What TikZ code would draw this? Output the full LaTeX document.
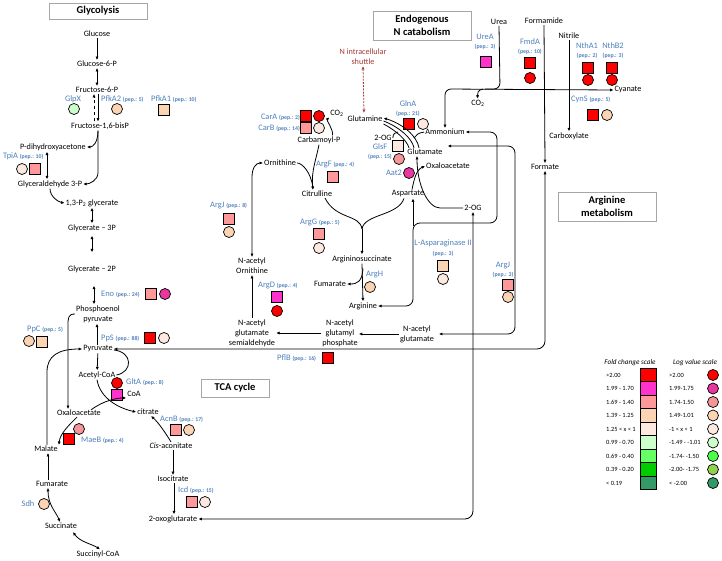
\documentclass[tikz,border=0pt]{standalone}
\usepackage{fontspec}
\setmainfont{Carlito}
\usetikzlibrary{arrows.meta,calc}
\definecolor{enzblue}{HTML}{4F81BD}
\definecolor{shut}{HTML}{A33B36}
\definecolor{boxgray}{HTML}{A6A6A6}
\definecolor{cR}{HTML}{FF0000}
\definecolor{cMgS}{HTML}{FF33CC}
\definecolor{cMgC}{HTML}{E8379F}
\definecolor{cPk}{HTML}{FF9999}
\definecolor{cPkC}{HTML}{F4959A}
\definecolor{cPe}{HTML}{FBD4B4}
\definecolor{cLP}{HTML}{FDE9DF}
\definecolor{cLG}{HTML}{CCFFCC}
\definecolor{cG}{HTML}{66FF66}
\definecolor{cGc}{HTML}{4CFF4C}
\definecolor{cG2}{HTML}{00CC00}
\definecolor{cOl}{HTML}{92D050}
\definecolor{cDG}{HTML}{339966}
\newcommand\metf{\fontsize{8.2}{10}\selectfont}
\newcommand\enzf{\fontsize{8.4}{9}\selectfont}
\newcommand\pepf{\fontsize{5.8}{8}\selectfont\bfseries}
\newcommand\titf{\fontsize{10.5}{12.5}\selectfont\bfseries}
\newcommand\legf{\fontsize{6.4}{7.5}\selectfont}
\newcommand\legh{\fontsize{7.2}{8.5}\selectfont\itshape}
\begin{document}
\begin{tikzpicture}[x=1pt,y=-1pt,
  met/.style={font=\metf, align=center, inner sep=1pt},
  enz/.style={font=\enzf, text=enzblue, align=center, inner sep=0pt},
  sq/.style={draw=black, line width=0.7pt, minimum size=10.5pt, inner sep=0pt, rectangle},
  ci/.style={draw=black, line width=0.7pt, minimum size=11pt, inner sep=0pt, circle},
  ln/.style={line width=0.8pt, draw=black},
  arr/.style={ln, -{Latex[length=3.4pt,width=3.2pt]}},
  dbl/.style={ln, {Latex[length=3.4pt,width=3.2pt]}-{Latex[length=3.4pt,width=3.2pt]}},
  titlebox/.style={draw=boxgray, line width=0.8pt, font=\titf, align=center, inner sep=0pt},
  legsq/.style={draw=black, line width=0.7pt, minimum width=16pt, minimum height=13.5pt, inner sep=0pt, rectangle},
  legt/.style={font=\legf, inner sep=0pt}]
\fill[white] (0,0) rectangle (722,561);
\useasboundingbox (0,0) rectangle (722,561);

% ---------- titles
\node[titlebox, minimum width=98pt, minimum height=16pt] (tGly) at (98,11) {Glycolysis};
\node[titlebox, minimum width=98pt, minimum height=29pt] (tN) at (422,25.5) {Endogenous\\N catabolism};
\node[titlebox, minimum width=68pt, minimum height=18pt] (tTCA) at (235,388) {TCA cycle};
\node[titlebox, minimum width=98pt, minimum height=29pt] (tArg) at (607,206.5) {Arginine\\metabolism};

% ---------- glycolysis metabolites
\node[met] (glc) at (97,34) {Glucose};
\node[met] (g6p) at (97,64) {Glucose-6-P};
\node[met] (f6p) at (97,90) {Fructose-6-P};
\node[met] (fbp) at (100,126) {Fructose-1,6-bisP};
\node[met] (dhap) at (53,147) {P-dihydroxyacetone};
\node[met] (gap) at (50,184) {Glyceraldehyde 3-P};
\node[met] (bpg) at (92,203) {1,3-P\textsubscript{2} glycerate};
\node[met] (g3p) at (92,228) {Glycerate – 3P};
\node[met] (g2p) at (92,269) {Glycerate – 2P};
\node[met] (pep) at (98,314) {Phosphoenol\\pyruvate};
\node[met] (pyr) at (98,349) {Pyruvate};
\node[met] (accoa) at (97,375) {Acetyl-CoA};
\node[met] (coa) at (134,394) {CoA};
\node[met] (oaa) at (79,413) {Oxaloacetate};
\node[met] (cit) at (148,412) {citrate};
\node[met] (cisac) at (171,446) {\textit{Cis}-aconitate};
\node[met] (icit) at (173,479) {Isocitrate};
\node[met] (akg) at (173,519) {2-oxoglutarate};
\node[met] (mal) at (46,449) {Malate};
\node[met] (fum) at (52,484) {Fumarate};
\node[met] (suc) at (61,526) {Succinate};
\node[met] (succoa) at (98,554) {Succinyl-CoA};

% ---------- glycolysis / TCA enzymes
\node[enz] (glpxL) at (73,99) {GlpX};
\node[ci,fill=cLG] (glpxC) at (74,109) {};
\node[enz,anchor=west] (pfka2L) at (101,99) {PfkA2 \pepf(pep.: 5)};
\node[ci,fill=cPe] (pfka2C) at (117,109) {};
\node[enz,anchor=west] (pfka1L) at (151,99) {PfkA1 \pepf(pep.: 10)};
\node[sq,fill=cPe] (pfka1S) at (164,110) {};
\node[enz,anchor=west] (tpiaL) at (3,156) {TpiA \pepf(pep.: 10)};
\node[ci,fill=cLP] (tpiaC) at (22,169) {};
\node[sq,fill=cPk] (tpiaS) at (35,169) {};
\node[enz,anchor=west] (enoL) at (101,294) {Eno \pepf(pep.: 24)};
\node[sq,fill=cPk] (enoS) at (151,294) {};
\node[ci,fill=cMgC] (enoC) at (165,294) {};
\node[enz,anchor=west] (ppsL) at (101,338) {PpS \pepf(pep.: 88)};
\node[sq,fill=cR] (ppsS) at (150,338) {};
\node[ci,fill=cLP] (ppsC) at (164,338) {};
\node[enz,anchor=west] (ppcL) at (27,329) {PpC \pepf(pep.: 5)};
\node[ci,fill=cPe] (ppcC) at (29,341) {};
\node[sq,fill=cPe] (ppcS) at (42,342) {};
\node[ci,fill=cR] (gltaC) at (117,383) {};
\node[enz,anchor=west] (gltaL) at (126,382) {GltA \pepf(pep.: 8)};
\node[sq,fill=cMgS] (gltaS) at (117,395) {};
\node[enz,anchor=west] (acnbL) at (160,419) {AcnB \pepf(pep.: 17)};
\node[sq,fill=cPk] (acnbS) at (176,430) {};
\node[ci,fill=cPe] (acnbC) at (189,430) {};
\node[ci,fill=cPkC] (maebC) at (79,429) {};
\node[sq,fill=cR] (maebS) at (69,439) {};
\node[enz,anchor=west] (maebL) at (81,440) {MaeB \pepf(pep.: 4)};
\node[enz,anchor=west] (icdL) at (178,490) {Icd \pepf(pep.: 15)};
\node[sq,fill=cPk] (icdS) at (192,502) {};
\node[ci,fill=cLP] (icdC) at (205,502) {};
\node[enz] (sdhL) at (28,504) {Sdh};
\node[ci,fill=cPe] (sdhC) at (44,504) {};
\node[enz,anchor=west] (pflbL) at (277,358) {PflB \pepf(pep.: 16)};
\node[sq,fill=cR] (pflbS) at (328,358) {};

% ---------- glycolysis connectors
\draw[arr] (glc) -- (g6p);
\draw[dbl] (g6p) -- (f6p);
\draw[arr] ($(f6p.south)+(1,0)$) -- ($(fbp.north)+(-2,0)$);
\draw[arr,dashed] ($(fbp.north)+(-6,0)$) -- ($(f6p.south)+(-3,0)$);
\draw[arr] ($(fbp.south)+(-2,0)$) .. controls +(0,12) and +(6,0) .. (dhap.east);
\draw[arr] ($(fbp.south)+(-2,0)$) -- ++(0,42) .. controls +(0,8) and +(6,0) .. (gap.east);
\draw[dbl] ($(dhap.south)+(-6,0)$) -- ($(gap.north)+(-3,0)$);
\draw[arr] (gap.south) .. controls +(0,8) and +(-6,-1) .. (bpg.west);
\draw[dbl] (bpg) -- (g3p);
\draw[dbl] ($(g3p.south)+(0,3)$) -- ($(g2p.north)+(0,-12)$);
\draw[dbl] ($(g2p.south)+(2,12)$) -- ($(pep.north)+(-4,0)$);
\draw[arr] ($(pyr.north)+(-1,0)$) -- ($(pep.south)+(-1,0)$);
\draw[arr] (pep.west) .. controls (68,314) and (68,318) .. (68,326) -- ($(oaa.north)+(-11,0)$);
\draw[arr] ($(mal.north)+(1,0)$) -- (47,372) .. controls (47,356) and (58,349) .. (pyr.west);
\draw[arr] (pyr) -- (accoa);
\draw[ln] ([yshift=-1pt]pyr.east) .. controls (133,352) and (133,372) .. (accoa.east);
\draw[arr] (accoa.south) .. controls (100,398) and (118,408) .. (cit.west);
\draw[arr] ($(oaa.north)+(12,1)$) .. controls (104,400) and (118,398) .. (coa.south west);
\draw[arr] (cisac.north) .. controls (165,432) and (158,422) .. ($(cit.south)+(3,0)$);
\draw[arr] ($(cisac.south)+(2,0)$) -- (icit.north);
\draw[arr] ($(icit.south)+(1,0)$) -- ($(akg.north)+(1,0)$);
\draw[arr] ($(oaa.south)+(-2,0)$) .. controls (68,426) and (60,434) .. (mal.north east);
\draw[arr] ($(fum.north)+(-4,0)$) -- ($(mal.south)+(2,0)$);
\draw[dbl] ($(fum.south)+(-4,0)$) .. controls (48,505) and (56,512) .. ($(suc.north)+(-1,0)$);
\draw[dbl] ($(suc.south)+(12,2)$) .. controls (80,542) and (92,544) .. ($(succoa.north)+(2,0)$);

% ---------- N catabolism / arginine metabolites
\node[met,text=shut] (shutL) at (363,57) {N intracellular\\shuttle};
\node[met] (gln) at (365,119) {Glutamine};
\node[met] (carp) at (319,140) {Carbamoyl-P};
\node[met] (co2a) at (337,113) {CO\textsubscript{2}};
\node[met] (orn) at (280,163) {Ornithine};
\node[met] (citr) at (317,194) {Citrulline};
\node[met] (og2a) at (383,138) {2-OG};
\node[met] (glu) at (425,152) {Glutamate};
\node[met] (amm) at (445,132) {Ammonium};
\node[met] (oaa2) at (448,166) {Oxaloacetate};
\node[met] (asp) at (408,194) {Aspartate};
\node[met] (argsuc) at (362,259) {Argininosuccinate};
\node[met] (fum2) at (330,284) {Fumarate};
\node[met] (arg) at (363,306) {Arginine};
\node[met] (acorn) at (252,266) {N-acetyl\\Ornithine};
\node[met] (nags) at (252,333) {N-acetyl\\glutamate\\semialdehyde};
\node[met] (nagp) at (340,333) {N-acetyl\\glutamyl\\phosphate};
\node[met] (nag) at (417,334) {N-acetyl\\glutamate};
\node[met] (og2) at (473,208) {2-OG};
\node[met] (urea) at (499,22) {Urea};
\node[met] (fmd) at (544,21) {Formamide};
\node[met] (nitr) at (569,36) {Nitrile};
\node[met] (cyan) at (628,90) {Cyanate};
\node[met] (carbx) at (569,136) {Carboxylate};
\node[met] (formate) at (545,167) {Formate};
\node[met] (co2b) at (478,103) {CO\textsubscript{2}};

% ---------- enzymes centre / right
\node[enz,anchor=east] (caraL) at (300,117) {CarA \pepf(pep.: 2)};
\node[sq,fill=cR] (caraS) at (306,116) {};
\node[ci,fill=cR] (caraC) at (319,116) {};
\node[enz,anchor=east] (carbL) at (300,128) {CarB \pepf(pep.: 14)};
\node[sq,fill=cPk] (carbS) at (306,128) {};
\node[ci,fill=cLP] (carbC) at (319,128) {};
\node[enz,anchor=west] (argfL) at (316,165) {ArgF \pepf(pep.: 4)};
\node[sq,fill=cPk] (argfS) at (333,177) {};
\node[enz] (glnaL) at (408,109) {GlnA\\\pepf(pep.: 21)};
\node[sq,fill=cR] (glnaS) at (409,124) {};
\node[ci,fill=cLP] (glnaC) at (423,124) {};
\node[enz] (glsfL) at (380,152) {GlsF\\\pepf(pep.: 15)};
\node[sq,fill=cLP] (glsfS) at (398,146) {};
\node[ci,fill=cPkC] (glsfC) at (399,159) {};
\node[enz] (aat2L) at (394,173) {Aat2};
\node[ci,fill=cMgC] (aat2C) at (409,173) {};
\node[enz,anchor=west] (argjL) at (210,206) {ArgJ \pepf(pep.: 8)};
\node[sq,fill=cPk] (argjS) at (229,219) {};
\node[ci,fill=cPe] (argjC) at (229,232) {};
\node[enz,anchor=west] (arggL) at (300,222) {ArgG \pepf(pep.: 5)};
\node[sq,fill=cPk] (arggS) at (319,234) {};
\node[ci,fill=cLP] (arggC) at (319,248) {};
\node[enz,anchor=west] (arghL) at (366,275) {ArgH};
\node[ci,fill=cPe] (arghC) at (370,287) {};
\node[enz,anchor=west] (argdL) at (258,286) {ArgD \pepf(pep.: 4)};
\node[sq,fill=cMgS] (argdS) at (277,297) {};
\node[ci,fill=cR] (argdC) at (277,311) {};
\node[enz] (aspL) at (443,248) {L-Asparaginase II\\[1pt]\pepf(pep.: 3)};
\node[sq,fill=cPe] (aspS) at (443,266) {};
\node[ci,fill=cLP] (aspC) at (443,279) {};
\node[enz] (argj2L) at (503,270) {ArgJ\\\pepf(pep.: 3)};
\node[sq,fill=cPk] (argj2S) at (508,285) {};
\node[ci,fill=cPe] (argj2C) at (508,297) {};
\node[enz] (ureaL) at (485,42) {UreA\\\pepf(pep.: 3)};
\node[sq,fill=cMgS] (ureaS) at (486,62) {};
\node[enz] (fmdaL) at (530,47) {FmdA\\\pepf(pep.: 10)};
\node[sq,fill=cR] (fmdaS) at (530,63) {};
\node[ci,fill=cR] (fmdaC) at (530,78) {};
\node[enz] (ntha1L) at (587,51) {NthA1\\\pepf(pep.: 2)};
\node[sq,fill=cR] (ntha1S) at (588,68) {};
\node[ci,fill=cR] (ntha1C) at (588,80) {};
\node[enz] (nthb2L) at (613,51) {NthB2\\\pepf(pep.: 3)};
\node[sq,fill=cR] (nthb2S) at (612,68) {};
\node[ci,fill=cR] (nthb2C) at (612,80) {};
\node[enz,anchor=west] (cynsL) at (571,99) {CynS \pepf(pep.: 5)};
\node[sq,fill=cR] (cynsS) at (593,115) {};
\node[ci,fill=cPe] (cynsC) at (607,115) {};

% ---------- centre connectors
\draw[dbl,rounded corners=8pt] (pyr.east) -- (545,349) -- (formate.south);
\draw[dbl,rounded corners=8pt] (akg.east) -- (473,519) -- (og2.south);
\draw[dbl,shut,dash pattern=on 2pt off 1.2pt] (shutL.south) -- ($(gln.north)+(-1,-2)$);
\draw[arr] ($(carp.north east)+(-9,0)$) .. controls +(1,-6) and +(-3,3) .. (co2a.south west);
\draw[arr] ($(glu.north)+(-6,0)$) .. controls (417,136) and (403,124) .. ($(gln.east)+(0,-1)$);
\draw[ln] ($(glu.north)+(-11,0)$) .. controls (412,138) and (399,127) .. ($(gln.east)+(0,2)$);
\draw[ln] ($(glu.north)+(-16,0)$) .. controls (407,140) and (395,130) .. ($(gln.east)+(0,5)$);
\draw[ln] (amm.west) .. controls (418,133) and (416,135) .. (414,138);
\draw[ln] (og2a.east) .. controls (393,134) and (395,132) .. (398,132);
\draw[arr] ($(asp.north)+(4,0)$) .. controls (414,180) and (416,170) .. (oaa2.west);
\draw[arr] (og2.west) -- (440,208) .. controls (428,208) and (417,185) .. ($(glu.south)+(-8,0)$);
\draw[arr] (carp.south) .. controls (316,160) and (311,172) .. ($(citr.north)+(-4,0)$);
\draw[ln] (orn.east) .. controls (302,163) and (311,172) .. ($(citr.north)+(-4,-2)$);
\draw[dbl] (orn.west) .. controls (256,163) and (252,168) .. (252,177) -- (acorn.north);
\draw[arr] (nags.north) -- (acorn.south);
\draw[arr] (nagp.west) -- (nags.east);
\draw[arr] (nag.west) -- (nagp.east |- nag.west);
\coordinate (jas) at (362,229);
\draw[ln] ($(citr.south)+(8,0)$) .. controls (336,220) and (360,214) .. (jas);
\draw[ln] ($(asp.south)+(-4,0)$) .. controls (398,216) and (364,214) .. (jas);
\draw[arr] (jas) -- (argsuc.north);
\draw[arr] (argsuc.south) -- (arg.north);
\draw[arr] ($(argsuc.south)+(1,5)$) .. controls (362,281) and (358,284) .. (fum2.east);
\draw[dbl,rounded corners=7pt] (amm.east) -- (497,132) -- (497,223) -- (413,223) -- (413,306) -- (arg.east);
\coordinate (jasp) at (413,226);
\draw[arr] (jasp) -- ($(asp.south)+(5,0)$);
\draw[dbl,rounded corners=7pt] ($(glu.east)+(4,-6)$) -- (515,146) -- (515,334) -- ($(nag.east)+(4,0)$);
\draw[dbl,rounded corners=6pt] (amm.north) -- (445,89) -- (cyan.west);
\draw[ln,rounded corners=6pt] (urea.south) -- (500,89) -- (485,89);
\draw[arr] (483,89) .. controls (478,90) and (477,93) .. (co2b.north);
\draw[arr] (fmd.south) -- (formate.north);
\draw[arr] (nitr.south) -- (carbx.north);

% ---------- legend
\node[legt,font=\legh] (legA) at (630,363) {Fold change scale};
\node[legt,font=\legh] (legB) at (695,363) {Log value scale};
\foreach \sc/\cc/\l/\r [count=\i from 0] in {cR/cR/>2.00/>2.00, cMgS/cMgC/1.99 - 1.70/1.99-1.75, cPk/cPkC/1.69 - 1.40/1.74-1.50, cPe/cPe/1.39 - 1.25/1.49-1.01, cLP/cLP/1.25 < x < 1/-1 < x < 1, cLG/cLG/0.99 - 0.70/-1.49 - -1.01, cG/cGc/0.69 - 0.40/-1.74- -1.50, cG2/cOl/0.39 - 0.20/-2.00- -1.75, cDG/cDG/< 0.19/< -2.00}{
  \node[legsq, fill=\sc] (ls\i) at (648,{375+13.5*\i}) {};
  \node[legt, anchor=west] (ll\i) at (606,{375+13.5*\i}) {\l};
  \node[legt, anchor=west] (lr\i) at (669,{375+13.5*\i}) {\r};
  \node[ci, fill=\cc] (lc\i) at (713,{375+13.5*\i}) {};
}
\end{tikzpicture}
\end{document}
